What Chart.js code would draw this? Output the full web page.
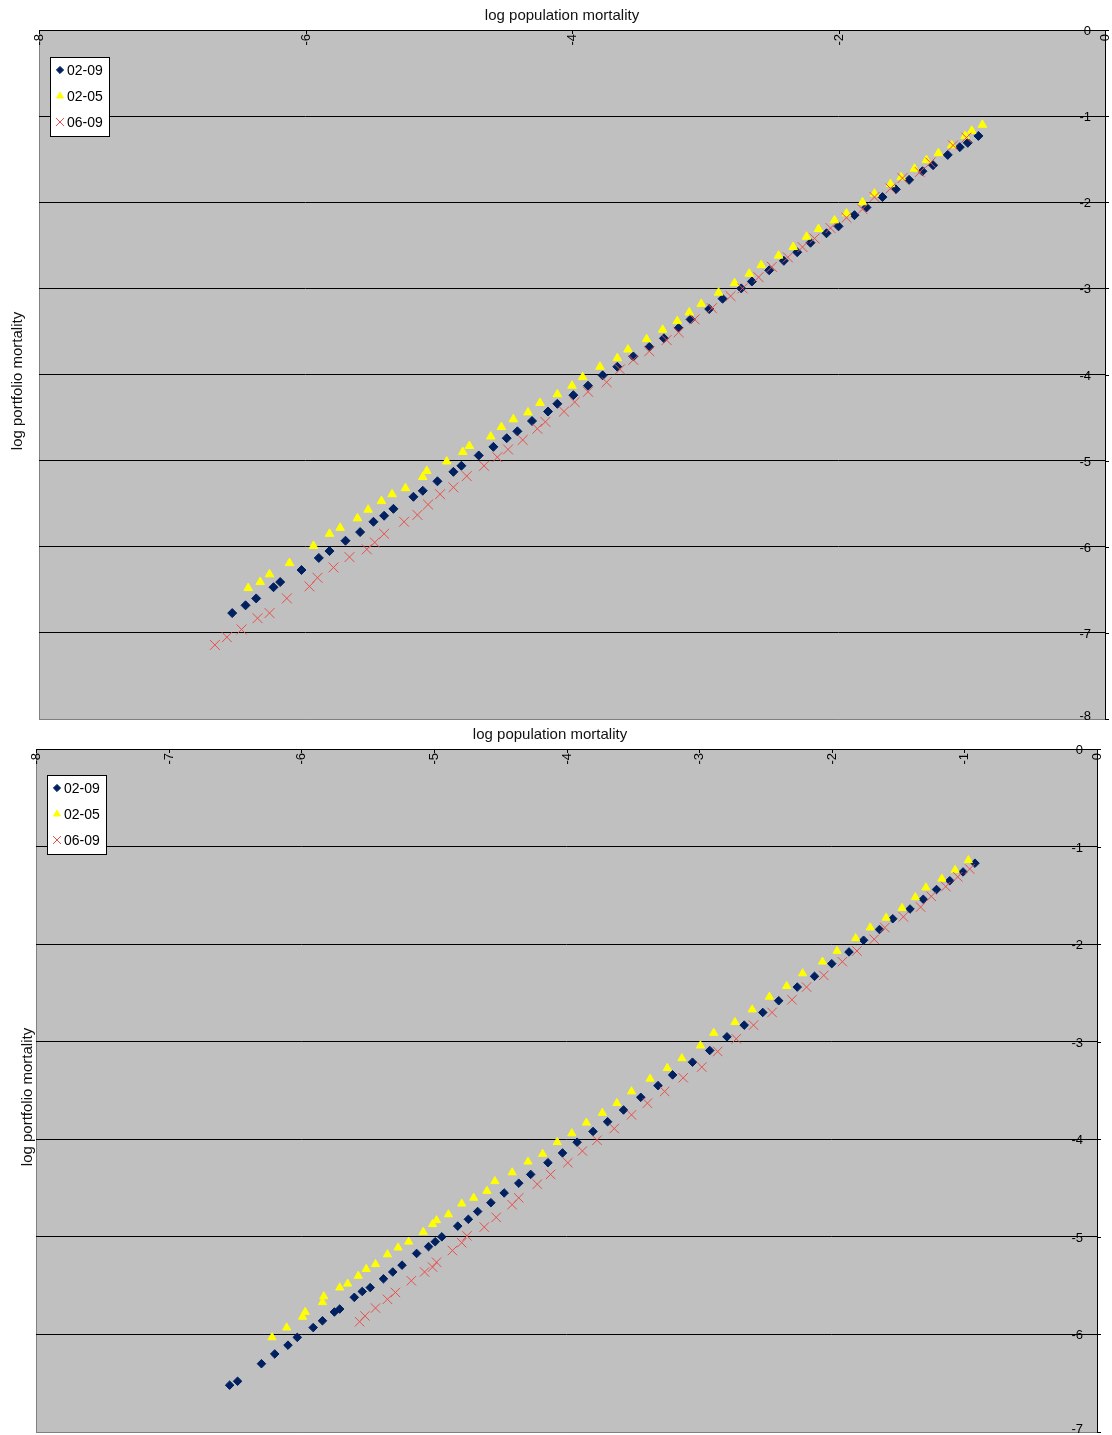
<!DOCTYPE html>
<html>
<head>
<meta charset="utf-8">
<title>log population mortality</title>
<script src="https://cdn.jsdelivr.net/npm/chart.js@4.4.1/dist/chart.umd.min.js"></script>
<style>
  body { margin: 0; background: #fff; }
  #wrap { position: relative; width: 1112px; height: 1435px; }
  canvas { position: absolute; left: 0; }
</style>
</head>
<body>
<div id="wrap">
  <canvas id="chartTop" width="1112" height="722" style="top:0px"></canvas>
  <canvas id="chartBottom" width="1112" height="713" style="top:722px"></canvas>
</div>
<script>
// series names (legend)
var seriesNames = ['02-09', '02-05', '06-09'];

// tick values
var topXTicks = [-8, -6, -4, -2, 0];
var topYTicks = [0, -1, -2, -3, -4, -5, -6, -7, -8];
var bottomXTicks = [-8, -7, -6, -5, -4, -3, -2, -1, 0];
var bottomYTicks = [0, -1, -2, -3, -4, -5, -6, -7];

// upper chart, 02-09
var topX0209 = [-6.55,-6.45,-6.37,-6.24,-6.19,-6.03,-5.90,-5.82,-5.70,-5.59,-5.49,-5.41,-5.34,-5.19,-5.12,-5.01,-4.89,-4.83,-4.70,-4.59,-4.49,-4.41,-4.30,-4.18,-4.11,-3.99,-3.88,-3.77,-3.66,-3.54,-3.42,-3.31,-3.20,-3.11,-2.97,-2.87,-2.73,-2.65,-2.52,-2.41,-2.31,-2.21,-2.09,-2.00,-1.88,-1.79,-1.67,-1.57,-1.47,-1.37,-1.29,-1.18,-1.09,-1.03,-0.95];
var topY0209 = [-6.77,-6.68,-6.60,-6.47,-6.41,-6.27,-6.13,-6.05,-5.93,-5.83,-5.71,-5.64,-5.56,-5.42,-5.35,-5.24,-5.13,-5.06,-4.94,-4.84,-4.74,-4.66,-4.54,-4.43,-4.34,-4.24,-4.13,-4.01,-3.91,-3.79,-3.68,-3.58,-3.46,-3.36,-3.24,-3.12,-3.00,-2.92,-2.79,-2.68,-2.58,-2.47,-2.36,-2.28,-2.15,-2.06,-1.94,-1.85,-1.74,-1.64,-1.57,-1.45,-1.36,-1.31,-1.23];
// upper chart, 02-05
var topX0205 = [-6.43,-6.34,-6.27,-6.12,-5.94,-5.82,-5.74,-5.61,-5.53,-5.43,-5.35,-5.25,-5.12,-5.09,-4.94,-4.82,-4.77,-4.61,-4.53,-4.44,-4.33,-4.24,-4.11,-4.00,-3.92,-3.79,-3.66,-3.58,-3.44,-3.32,-3.21,-3.12,-3.03,-2.90,-2.78,-2.67,-2.58,-2.45,-2.34,-2.24,-2.15,-2.03,-1.94,-1.82,-1.73,-1.61,-1.53,-1.43,-1.34,-1.25,-1.15,-1.05,-1.00,-0.92];
var topY0205 = [-6.48,-6.41,-6.32,-6.19,-5.99,-5.85,-5.78,-5.67,-5.57,-5.47,-5.39,-5.32,-5.19,-5.12,-5.01,-4.90,-4.83,-4.72,-4.61,-4.52,-4.44,-4.33,-4.23,-4.13,-4.03,-3.91,-3.81,-3.71,-3.59,-3.48,-3.38,-3.28,-3.18,-3.05,-2.94,-2.83,-2.73,-2.62,-2.52,-2.40,-2.31,-2.21,-2.13,-2.00,-1.90,-1.79,-1.71,-1.61,-1.51,-1.43,-1.34,-1.23,-1.17,-1.10];
// upper chart, 06-09
var topX0609 = [-6.68,-6.59,-6.48,-6.36,-6.27,-6.14,-5.97,-5.91,-5.79,-5.67,-5.54,-5.48,-5.41,-5.26,-5.16,-5.08,-4.99,-4.89,-4.79,-4.66,-4.56,-4.48,-4.37,-4.26,-4.20,-4.06,-3.98,-3.88,-3.74,-3.64,-3.54,-3.42,-3.29,-3.20,-3.08,-2.95,-2.81,-2.72,-2.60,-2.50,-2.38,-2.27,-2.18,-2.06,-1.94,-1.82,-1.73,-1.61,-1.52,-1.39,-1.31,-1.14,-1.04];
var topY0609 = [-7.14,-7.05,-6.96,-6.83,-6.77,-6.60,-6.46,-6.36,-6.24,-6.12,-6.03,-5.95,-5.85,-5.71,-5.63,-5.51,-5.39,-5.31,-5.18,-5.06,-4.96,-4.87,-4.76,-4.63,-4.55,-4.43,-4.32,-4.20,-4.09,-3.94,-3.83,-3.73,-3.60,-3.51,-3.36,-3.23,-3.09,-3.00,-2.87,-2.75,-2.64,-2.52,-2.42,-2.30,-2.18,-2.08,-1.94,-1.84,-1.72,-1.65,-1.54,-1.34,-1.25];

// lower chart, 02-09
var botX0209 = [-6.54,-6.48,-6.30,-6.20,-6.10,-6.03,-5.91,-5.84,-5.75,-5.71,-5.60,-5.54,-5.48,-5.38,-5.31,-5.24,-5.13,-5.04,-4.99,-4.94,-4.82,-4.74,-4.67,-4.57,-4.47,-4.36,-4.27,-4.14,-4.03,-3.92,-3.80,-3.69,-3.57,-3.44,-3.31,-3.20,-3.05,-2.92,-2.79,-2.66,-2.52,-2.40,-2.26,-2.13,-2.00,-1.87,-1.76,-1.64,-1.54,-1.41,-1.31,-1.21,-1.11,-1.01,-0.92];
var botY0209 = [-6.52,-6.48,-6.30,-6.20,-6.11,-6.03,-5.93,-5.86,-5.77,-5.74,-5.62,-5.56,-5.52,-5.43,-5.36,-5.29,-5.17,-5.10,-5.05,-5.00,-4.89,-4.82,-4.74,-4.65,-4.55,-4.45,-4.36,-4.24,-4.14,-4.03,-3.92,-3.82,-3.70,-3.57,-3.45,-3.34,-3.21,-3.09,-2.95,-2.83,-2.70,-2.58,-2.44,-2.33,-2.20,-2.08,-1.96,-1.85,-1.74,-1.64,-1.54,-1.44,-1.35,-1.26,-1.17];
// lower chart, 02-05
var botX0205 = [-6.22,-6.11,-5.99,-5.97,-5.84,-5.83,-5.71,-5.65,-5.57,-5.51,-5.44,-5.35,-5.27,-5.19,-5.08,-5.01,-4.98,-4.89,-4.79,-4.70,-4.60,-4.54,-4.41,-4.29,-4.18,-4.07,-3.96,-3.85,-3.73,-3.62,-3.51,-3.37,-3.24,-3.13,-2.99,-2.89,-2.73,-2.60,-2.47,-2.34,-2.22,-2.07,-1.96,-1.82,-1.71,-1.59,-1.47,-1.37,-1.29,-1.17,-1.07,-0.97];
var botY0205 = [-6.03,-5.93,-5.82,-5.77,-5.67,-5.61,-5.52,-5.48,-5.40,-5.33,-5.28,-5.18,-5.11,-5.05,-4.95,-4.87,-4.83,-4.77,-4.66,-4.60,-4.53,-4.43,-4.34,-4.23,-4.15,-4.03,-3.94,-3.83,-3.73,-3.63,-3.51,-3.38,-3.27,-3.17,-3.04,-2.91,-2.80,-2.67,-2.54,-2.43,-2.30,-2.18,-2.07,-1.94,-1.83,-1.73,-1.63,-1.52,-1.42,-1.33,-1.24,-1.14];
// lower chart, 06-09
var botX0609 = [-5.56,-5.52,-5.44,-5.35,-5.29,-5.17,-5.07,-5.01,-4.98,-4.86,-4.79,-4.75,-4.62,-4.53,-4.41,-4.36,-4.22,-4.12,-3.99,-3.88,-3.77,-3.64,-3.51,-3.39,-3.26,-3.12,-2.98,-2.86,-2.72,-2.59,-2.45,-2.30,-2.19,-2.06,-1.92,-1.81,-1.68,-1.60,-1.46,-1.33,-1.25,-1.14,-1.05,-0.96];
var botY0609 = [-5.87,-5.81,-5.73,-5.64,-5.57,-5.45,-5.36,-5.31,-5.26,-5.14,-5.06,-4.99,-4.90,-4.80,-4.67,-4.60,-4.46,-4.36,-4.24,-4.12,-4.01,-3.89,-3.75,-3.63,-3.51,-3.37,-3.26,-3.10,-2.97,-2.83,-2.70,-2.57,-2.44,-2.32,-2.18,-2.07,-1.95,-1.83,-1.72,-1.62,-1.51,-1.41,-1.31,-1.23];

var FONT = '"Liberation Sans", Arial, sans-serif';
var NAVY = '#002060';
var YELLOW = '#FFFF00';
var RED = '#E8504C';

function toPoints(xs, ys) {
    var pts = [];
    for (var i = 0; i < xs.length; i++) {
        pts.push({x: xs[i], y: ys[i]});
    }
    return pts;
}

// marker styles shared by the plot and the legend
var markers = [
    {pointStyle: 'rectRot', radius: 4.5, fill: NAVY, stroke: NAVY, borderWidth: 1},
    {pointStyle: 'triangle', radius: 5, fill: YELLOW, stroke: YELLOW, borderWidth: 1},
    {pointStyle: 'crossRot', radius: 7, fill: RED, stroke: RED, borderWidth: 1}
];

// Excel-like frame: grey plot area, rotated x labels inside, y labels inside on the right
var excelLook = {
    id: 'excelLook',
    beforeDraw: function (chart) {
        var ctx = chart.ctx, a = chart.chartArea;
        ctx.save();
        ctx.fillStyle = '#ffffff';
        ctx.fillRect(0, 0, chart.width, chart.height);
        ctx.fillStyle = '#C0C0C0';
        ctx.fillRect(a.left, a.top, a.right - a.left, a.bottom - a.top);
        // left and bottom edge in grey
        ctx.strokeStyle = '#808080';
        ctx.lineWidth = 1;
        ctx.beginPath();
        ctx.moveTo(a.left + 0.5, a.top);
        ctx.lineTo(a.left + 0.5, a.bottom + 0.5);
        ctx.lineTo(a.right, a.bottom + 0.5);
        ctx.stroke();
        ctx.restore();
    },
    afterDraw: function (chart) {
        var ctx = chart.ctx, a = chart.chartArea;
        var o = chart.options.plugins.excelLook;
        var xs = chart.scales.x, ys = chart.scales.y;
        ctx.save();
        ctx.strokeStyle = '#000';
        ctx.fillStyle = '#000';
        ctx.lineWidth = 1;

        // x ticks and rotated labels
        ctx.font = '13px ' + FONT;
        o.xTicks.forEach(function (v) {
            var px = Math.round(xs.getPixelForValue(v)) + 0.5;
            ctx.beginPath();
            ctx.moveTo(px, a.top);
            ctx.lineTo(px, a.top + 4);
            ctx.stroke();
            ctx.save();
            ctx.translate(px, a.top + 4);
            ctx.rotate(-Math.PI / 2);
            ctx.textAlign = 'right';
            ctx.textBaseline = 'middle';
            ctx.fillText(String(v), 0, 0);
            ctx.restore();
        });

        // y ticks and labels (lowest one nudged up so it stays on the page)
        ctx.textAlign = 'right';
        ctx.textBaseline = 'middle';
        o.yTicks.forEach(function (v) {
            var py = Math.round(ys.getPixelForValue(v)) + 0.5;
            ctx.beginPath();
            ctx.moveTo(a.right, py);
            ctx.lineTo(a.right + 4, py);
            ctx.stroke();
            var ly = (v === ys.min) ? py - 3 : py + 1;
            ctx.fillText(String(v), a.right - 14, ly);
        });

        // axis titles
        ctx.font = '15px ' + FONT;
        ctx.textAlign = 'center';
        ctx.textBaseline = 'middle';
        ctx.fillStyle = '#111';
        ctx.fillText(o.title, o.titleX, o.titleY);
        ctx.save();
        ctx.translate(o.yLabelX, o.yLabelY);
        ctx.rotate(-Math.PI / 2);
        ctx.fillText(o.yLabel, 0, 0);
        ctx.restore();

        // legend box
        var L = o.legend;
        ctx.fillStyle = '#fff';
        ctx.fillRect(L.x, L.y, L.w, L.h);
        ctx.strokeStyle = '#000';
        ctx.strokeRect(L.x + 0.5, L.y + 0.5, L.w, L.h);
        ctx.font = '14px ' + FONT;
        ctx.textAlign = 'left';
        ctx.textBaseline = 'middle';
        for (var i = 0; i < seriesNames.length; i++) {
            var cy = L.y + 13 + i * 26;
            var m = markers[i];
            ctx.fillStyle = m.fill;
            ctx.strokeStyle = m.stroke;
            Chart.helpers.drawPoint(ctx, {pointStyle: m.pointStyle, radius: m.radius * 0.8, borderWidth: 1}, L.x + 10, cy);
            ctx.fillStyle = '#000';
            ctx.fillText(seriesNames[i], L.x + 17, cy + 1);
        }
        ctx.restore();
    }
};

function makeChart(id, cfg) {
    var datasets = [];
    for (var i = 0; i < 3; i++) {
        var m = markers[i];
        datasets.push({
            label: seriesNames[i],
            data: toPoints(cfg.xs[i], cfg.ys[i]),
            pointStyle: m.pointStyle,
            pointRadius: cfg.scale * m.radius,
            pointBackgroundColor: m.fill,
            pointBorderColor: m.stroke,
            pointBorderWidth: m.borderWidth,
            showLine: false,
            order: 3 - i
        });
    }
    return new Chart(document.getElementById(id), {
        type: 'scatter',
        data: {datasets: datasets},
        plugins: [excelLook],
        options: {
            responsive: false,
            animation: false,
            devicePixelRatio: 1,
            events: [],
            layout: {padding: cfg.padding, autoPadding: false},
            scales: {
                x: {
                    type: 'linear',
                    position: 'top',
                    min: -8,
                    max: 0,
                    ticks: {display: false},
                    grid: {display: false, drawTicks: false},
                    border: {display: true, color: '#000', width: 1}
                },
                y: {
                    type: 'linear',
                    position: 'right',
                    min: cfg.yMin,
                    max: 0,
                    afterBuildTicks: function (scale) {
                        scale.ticks = cfg.yTicks.map(function (v) { return {value: v}; });
                    },
                    ticks: {display: false},
                    grid: {
                        drawTicks: false,
                        lineWidth: 1,
                        color: function (c) {
                            return (c.tick && c.tick.value === cfg.yMin) ? '#808080' : '#000000';
                        }
                    },
                    border: {display: true, color: '#000', width: 1}
                }
            },
            plugins: {
                legend: {display: false},
                tooltip: {enabled: false},
                excelLook: {
                    xTicks: cfg.xTicks,
                    yTicks: cfg.yTicks,
                    title: 'log population mortality',
                    titleX: cfg.titleX,
                    titleY: cfg.titleY,
                    yLabel: 'log portfolio mortality',
                    yLabelX: cfg.yLabelX,
                    yLabelY: cfg.yLabelY,
                    legend: cfg.legend
                }
            }
        }
    });
}

makeChart('chartTop', {
    xs: [topX0209, topX0205, topX0609],
    ys: [topY0209, topY0205, topY0609],
    scale: 1,
    yMin: -8,
    xTicks: topXTicks,
    yTicks: topYTicks,
    padding: {left: 39, top: 30, right: 7, bottom: 3},
    titleX: 562, titleY: 16,
    yLabelX: 18, yLabelY: 381,
    legend: {x: 50, y: 57, w: 59, h: 79}
});

makeChart('chartBottom', {
    xs: [botX0209, botX0205, botX0609],
    ys: [botY0209, botY0205, botY0609],
    scale: 0.95,
    yMin: -7,
    xTicks: bottomXTicks,
    yTicks: bottomYTicks,
    padding: {left: 36, top: 27, right: 15, bottom: 3},
    titleX: 550, titleY: 13,
    yLabelX: 28, yLabelY: 375,
    legend: {x: 47, y: 53, w: 59, h: 79}
});
</script>
</body>
</html>
